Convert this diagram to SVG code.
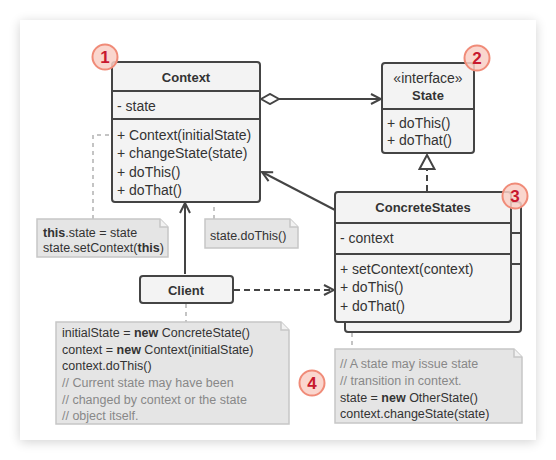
<svg xmlns="http://www.w3.org/2000/svg" width="556" height="460" viewBox="0 0 556 460">
<defs>
<filter id="sh" x="-10%" y="-10%" width="120%" height="120%">
<feGaussianBlur in="SourceAlpha" stdDeviation="6"/>
<feOffset dx="0" dy="2"/>
<feComponentTransfer><feFuncA type="linear" slope="0.18"/></feComponentTransfer>
<feMerge><feMergeNode/><feMergeNode in="SourceGraphic"/></feMerge>
</filter>
<marker id="open" viewBox="0 0 12 12" refX="11" refY="6" markerWidth="12" markerHeight="12" markerUnits="userSpaceOnUse" orient="auto">
<path d="M1,1 L11,6 L1,11" fill="none" stroke="#444" stroke-width="2"/>
</marker>
<marker id="tri" viewBox="0 0 18 18" refX="17" refY="9" markerWidth="18" markerHeight="18" markerUnits="userSpaceOnUse" orient="auto">
<path d="M2,1.5 L16,9 L2,16.5 Z" fill="#fff" stroke="#444" stroke-width="2"/>
</marker>
<marker id="dia" viewBox="0 0 20 12" refX="1" refY="6" markerWidth="20" markerHeight="12" markerUnits="userSpaceOnUse" orient="auto">
<path d="M1,6 L10,1 L19,6 L10,11 Z" fill="#fff" stroke="#444" stroke-width="2"/>
</marker>
</defs>
<style>
text{font-family:"Liberation Sans",Arial,sans-serif;fill:#333}
.m{font-size:14px}
.b{font-size:13px;font-weight:bold}
.n{font-size:12.5px}
.c{fill:#888}
.box{fill:#f3f3f3;stroke:#444;stroke-width:2}
.sep{stroke:#444;stroke-width:2}
.note{fill:#e5e5e5;stroke:#c6c6c6;stroke-width:1.5}
.fold{fill:#f2f2f2;stroke:#c6c6c6;stroke-width:1.5}
.dot{fill:none;stroke:#c4c4c4;stroke-width:2;stroke-dasharray:4 4}
.ln{fill:none;stroke:#444;stroke-width:2}
.badge{fill:#f9cfc6;fill-opacity:0.85;stroke:#f08b78;stroke-width:2}
.bn{font-size:17px;font-weight:bold;fill:#c8182e}
</style>
<rect width="556" height="460" fill="#fff"/>
<rect x="20" y="20" width="516" height="420" fill="#fff" filter="url(#sh)"/>

<g id="connectors">
<path class="dot" d="M93,219 V135 H112"/>
<path class="dot" d="M214,219 V173 H192"/>
<circle cx="188" cy="173" r="3" fill="#fff" stroke="#aaa" stroke-width="1.5"/>
<path class="dot" d="M186,304 V322"/>
<path class="dot" d="M352,333 V349"/>
<path class="ln" d="M261,99 H381" marker-start="url(#dia)" marker-end="url(#open)"/>
<path class="ln" d="M335,210 L262,172" marker-end="url(#open)"/>
<path class="ln" d="M185,274 V203" marker-end="url(#open)"/>
<path class="ln" d="M234,290 H334" stroke-dasharray="6 4" marker-end="url(#open)"/>
<path class="ln" d="M427,191 V154" stroke-dasharray="6 4" marker-end="url(#tri)"/>
</g>

<g id="context">
<rect class="box" x="112" y="62" width="148" height="140" rx="3"/>
<line class="sep" x1="112" y1="91" x2="260" y2="91"/>
<line class="sep" x1="112" y1="119" x2="260" y2="119"/>
<text class="b" x="186" y="82" text-anchor="middle">Context</text>
<text class="m" x="117" y="111">- state</text>
<text class="m" x="117" y="140">+ Context(initialState)</text>
<text class="m" x="117" y="158">+ changeState(state)</text>
<text class="m" x="117" y="177">+ doThis()</text>
<text class="m" x="117" y="195">+ doThat()</text>
</g>

<g id="state">
<rect class="box" x="382" y="63" width="92" height="90" rx="3"/>
<line class="sep" x1="382" y1="109" x2="474" y2="109"/>
<text class="m" x="428" y="83" text-anchor="middle">«interface»</text>
<text class="b" x="428" y="100" text-anchor="middle">State</text>
<text class="m" x="387" y="128">+ doThis()</text>
<text class="m" x="387" y="145">+ doThat()</text>
</g>

<g id="concretestates">
<rect class="box" x="345" y="202" width="176" height="130" rx="3"/>
<line class="sep" x1="345" y1="233" x2="521" y2="233"/>
<line class="sep" x1="345" y1="264" x2="521" y2="264"/>
<rect class="box" x="335" y="192" width="176" height="130" rx="3"/>
<line class="sep" x1="335" y1="223" x2="511" y2="223"/>
<line class="sep" x1="335" y1="254" x2="511" y2="254"/>
<text class="b" x="423" y="212" text-anchor="middle">ConcreteStates</text>
<text class="m" x="340" y="243">- context</text>
<text class="m" x="340" y="274">+ setContext(context)</text>
<text class="m" x="340" y="292">+ doThis()</text>
<text class="m" x="340" y="311">+ doThat()</text>
</g>

<g id="client">
<rect class="box" x="140" y="276" width="93" height="27" rx="3"/>
<text class="b" x="186" y="295" text-anchor="middle">Client</text>
</g>

<g id="note1">
<path class="note" d="M37,219 H160 L168,227 V257 H37 Z"/>
<path class="fold" d="M160,219 V227 H168"/>
<text class="n" x="43" y="236.5"><tspan font-weight="bold">this</tspan>.state = state</text>
<text class="n" x="43" y="251.5">state.setContext(<tspan font-weight="bold">this</tspan>)</text>
</g>

<g id="note2">
<path class="note" d="M205,219 H290 L298,227 V248 H205 Z"/>
<path class="fold" d="M290,219 V227 H298"/>
<text class="n" x="210" y="239.5">state.doThis()</text>
</g>

<g id="note3">
<path class="note" d="M56,322 H281 L289,330 V424 H56 Z"/>
<path class="fold" d="M281,322 V330 H289"/>
<text class="n" x="62" y="336.5">initialState = <tspan font-weight="bold">new</tspan> ConcreteState()</text>
<text class="n" x="62" y="353.5">context = <tspan font-weight="bold">new</tspan> Context(initialState)</text>
<text class="n" x="62" y="369.5">context.doThis()</text>
<text class="n c" x="62" y="386.5">// Current state may have been</text>
<text class="n c" x="62" y="403.5">// changed by context or the state</text>
<text class="n c" x="62" y="420">// object itself.</text>
</g>

<g id="note4">
<path class="note" d="M335,349 H514 L522,357 V423 H335 Z"/>
<path class="fold" d="M514,349 V357 H522"/>
<text class="n c" x="340" y="367.5">// A state may issue state</text>
<text class="n c" x="340" y="384.5">// transition in context.</text>
<text class="n" x="340" y="401.5">state = <tspan font-weight="bold">new</tspan> OtherState()</text>
<text class="n" x="340" y="417.5">context.changeState(state)</text>
</g>

<g id="badge1"><circle class="badge" cx="105" cy="57" r="12.5"/><text class="bn" x="105" y="63" text-anchor="middle">1</text></g>
<g id="badge2"><circle class="badge" cx="477" cy="58" r="12.5"/><text class="bn" x="477" y="64" text-anchor="middle">2</text></g>
<g id="badge3"><circle class="badge" cx="515" cy="196" r="12.5"/><text class="bn" x="515" y="202" text-anchor="middle">3</text></g>
<g id="badge4"><circle class="badge" cx="312" cy="383" r="12.5"/><text class="bn" x="312" y="389" text-anchor="middle">4</text></g>
</svg>
